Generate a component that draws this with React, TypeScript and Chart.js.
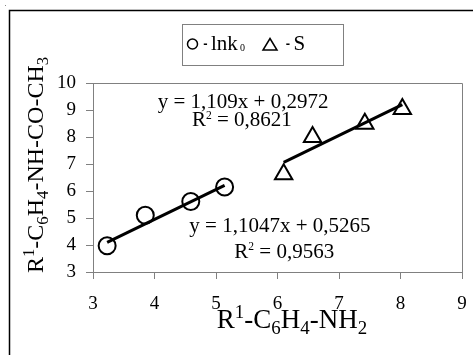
import React, { useEffect, useRef } from "react";
import { Chart, registerables } from "chart.js";

Chart.register(...registerables);

// ---- data ----
const lnkX = [3.23, 3.85, 4.59, 5.14];
const lnkY = [3.97, 5.1, 5.61, 6.15];
const sX = [6.1, 6.57, 7.42, 8.03];
const sY = [6.62, 8.0, 8.49, 9.04];

// linear trend equations shown on the chart
const lnkFit = { slope: 1.1047, intercept: 0.5265, r2: "0,9563", text: "y = 1,1047x + 0,5265" };
const sFit = { slope: 1.109, intercept: 0.2972, r2: "0,8621", text: "y = 1,109x + 0,2972" };

// label anchor positions (data coordinates: center x, baseline y)
const sEqPos = [5.44, 9.085];
const sR2Pos = [5.42, 8.39];
const lnkEqPos = [6.04, 4.5];
const lnkR2Pos = [6.11, 3.53];

const xRange = [3, 9];
const yRange = [3, 10];

const SERIF = '"Liberation Serif", "Times New Roman", serif';

type Part = { t: string; s?: "sub" | "sup" };

function drawRich(ctx: CanvasRenderingContext2D, parts: Part[], x: number, y: number, size: number, scriptScale = 0.7) {
  let w = 0;
  for (const p of parts) {
    ctx.font = `${p.s ? size * scriptScale : size}px ${SERIF}`;
    w += ctx.measureText(p.t).width;
  }
  let cx = x - w / 2;
  ctx.textAlign = "left";
  ctx.textBaseline = "alphabetic";
  ctx.fillStyle = "#000";
  for (const p of parts) {
    ctx.font = `${p.s ? size * scriptScale : size}px ${SERIF}`;
    const dy = p.s === "sub" ? size * 0.22 : p.s === "sup" ? -size * 0.36 : 0;
    ctx.fillText(p.t, cx, y + dy);
    cx += ctx.measureText(p.t).width;
  }
}

const xTitle: Part[] = [
  { t: "R" }, { t: "1", s: "sup" }, { t: "-C" }, { t: "6", s: "sub" }, { t: "H" }, { t: "4", s: "sub" }, { t: "-NH" }, { t: "2", s: "sub" },
];
const yTitle: Part[] = [
  { t: "R" }, { t: "1", s: "sup" }, { t: "-C" }, { t: "6", s: "sub" }, { t: "H" }, { t: "4", s: "sub" }, { t: "-NH-CO-CH" }, { t: "3", s: "sub" },
];

function drawR2(ctx: CanvasRenderingContext2D, value: string, x: number, y: number, size: number) {
  const parts: Part[] = [{ t: "R" }, { t: "2", s: "sup" }, { t: " = " + value }];
  drawRich(ctx, parts, x, y, size, 0.55);
}

const decor = {
  id: "decor",
  afterDraw(chart: any) {
    const ctx: CanvasRenderingContext2D = chart.ctx;
    const { chartArea } = chart;
    const xs = chart.scales.x;
    const ys = chart.scales.y;
    ctx.save();
    // outer frame
    ctx.strokeStyle = "#000";
    ctx.lineWidth = 1.5;
    ctx.beginPath();
    ctx.moveTo(9.5, 355);
    ctx.lineTo(9.5, 10.5);
    ctx.lineTo(473, 10.5);
    ctx.stroke();
    ctx.fillStyle = "#888";
    ctx.fillRect(5, 5, 1, 1);

    // plot border top/right
    ctx.strokeStyle = "#808080";
    ctx.lineWidth = 1;
    ctx.beginPath();
    ctx.moveTo(Math.round(chartArea.left) + 0.5, Math.round(chartArea.top) + 0.5);
    ctx.lineTo(Math.round(chartArea.right) + 0.5, Math.round(chartArea.top) + 0.5);
    ctx.lineTo(Math.round(chartArea.right) + 0.5, Math.round(chartArea.bottom) + 0.5);
    ctx.stroke();

    // legend box
    ctx.strokeRect(182.5, 24.5, 161, 41);
    ctx.strokeStyle = "#000";
    ctx.lineWidth = 1.5;
    ctx.beginPath();
    ctx.arc(192.5, 44, 5, 0, Math.PI * 2);
    ctx.stroke();
    ctx.beginPath();
    ctx.moveTo(270, 38.5);
    ctx.lineTo(277, 50);
    ctx.lineTo(263, 50);
    ctx.closePath();
    ctx.stroke();
    ctx.fillStyle = "#000";
    ctx.textBaseline = "alphabetic";
    ctx.textAlign = "center";
    ctx.font = `bold 13px "Liberation Sans", Arial, sans-serif`;
    ctx.fillText("-", 205.5, 48);
    ctx.fillText("-", 288, 48);
    ctx.textAlign = "left";
    ctx.font = `21px ${SERIF}`;
    ctx.fillText("lnk", 211, 50);
    ctx.fillText("S", 293.5, 50);
    ctx.font = `10px ${SERIF}`;
    ctx.fillText("0", 240, 51);

    // equations
    const eqSize = 21;
    const eq = (t: string, pos: number[]) => {
      drawRich(ctx, [{ t }], xs.getPixelForValue(pos[0]), ys.getPixelForValue(pos[1]), eqSize);
    };
    eq(sFit.text, sEqPos);
    drawR2(ctx, sFit.r2, xs.getPixelForValue(sR2Pos[0]), ys.getPixelForValue(sR2Pos[1]), eqSize);
    eq(lnkFit.text, lnkEqPos);
    drawR2(ctx, lnkFit.r2, xs.getPixelForValue(lnkR2Pos[0]), ys.getPixelForValue(lnkR2Pos[1]), eqSize);

    // axis titles
    drawRich(ctx, xTitle, 292, 328, 27);
    ctx.save();
    ctx.translate(43, 165);
    ctx.rotate(-Math.PI / 2);
    drawRich(ctx, yTitle, 0, 0, 24);
    ctx.restore();
    ctx.restore();
  },
};

function trend(fit: { slope: number; intercept: number }, xs: number[]) {
  const lo = Math.min(...xs);
  const hi = Math.max(...xs);
  return [
    { x: lo, y: fit.slope * lo + fit.intercept },
    { x: hi, y: fit.slope * hi + fit.intercept },
  ];
}

export default function App() {
  const ref = useRef<HTMLCanvasElement>(null);
  useEffect(() => {
    document.body.style.margin = "0";
    const tickFont = { family: SERIF, size: 19 };
    const chart = new Chart(ref.current!, {
      type: "scatter",
      data: {
        datasets: [
          {
            label: "lnk0",
            data: lnkX.map((x, i) => ({ x, y: lnkY[i] })),
            pointStyle: "circle",
            pointRadius: 8.5,
            borderColor: "#000",
            backgroundColor: "rgba(0,0,0,0)",
            borderWidth: 2,
          },
          {
            label: "S",
            data: sX.map((x, i) => ({ x, y: sY[i] })),
            pointStyle: "triangle",
            pointRadius: 10,
            borderColor: "#000",
            backgroundColor: "rgba(0,0,0,0)",
            borderWidth: 2,
          },
          {
            type: "line",
            label: "lnk fit",
            data: trend(lnkFit, lnkX),
            borderColor: "#000",
            borderWidth: 3,
            pointRadius: 0,
            showLine: true,
          },
          {
            type: "line",
            label: "S fit",
            data: trend(sFit, sX),
            borderColor: "#000",
            borderWidth: 3,
            pointRadius: 0,
            showLine: true,
          },
        ] as any,
      },
      options: {
        responsive: false,
        animation: false,
        layout: { autoPadding: false, padding: { top: 83, right: 11, left: 0, bottom: 0 } },
        plugins: { legend: { display: false }, tooltip: { enabled: false } },
        scales: {
          x: {
            type: "linear",
            min: xRange[0],
            max: xRange[1],
            ticks: { stepSize: 1, color: "#000", font: tickFont, padding: 14 },
            grid: { drawOnChartArea: false, color: "#808080", tickLength: 7 },
            border: { color: "#808080" },
            afterFit: (s: any) => {
              s.height = 83;
              s.paddingRight = 0;
              s.paddingLeft = 0;
            },
          },
          y: {
            type: "linear",
            min: yRange[0],
            max: yRange[1],
            ticks: { stepSize: 1, color: "#000", font: tickFont, padding: 10 },
            grid: { drawOnChartArea: false, color: "#808080", tickLength: 7 },
            border: { color: "#808080" },
            afterFit: (s: any) => {
              s.width = 93;
              s.paddingTop = 0;
              s.paddingBottom = 0;
            },
          },
        },
      } as any,
      plugins: [decor],
    });
    return () => chart.destroy();
  }, []);
  return (
    <div style={{ width: 473, height: 355 }}>
      <canvas ref={ref} width={473} height={355} style={{ display: "block" }} />
    </div>
  );
}
